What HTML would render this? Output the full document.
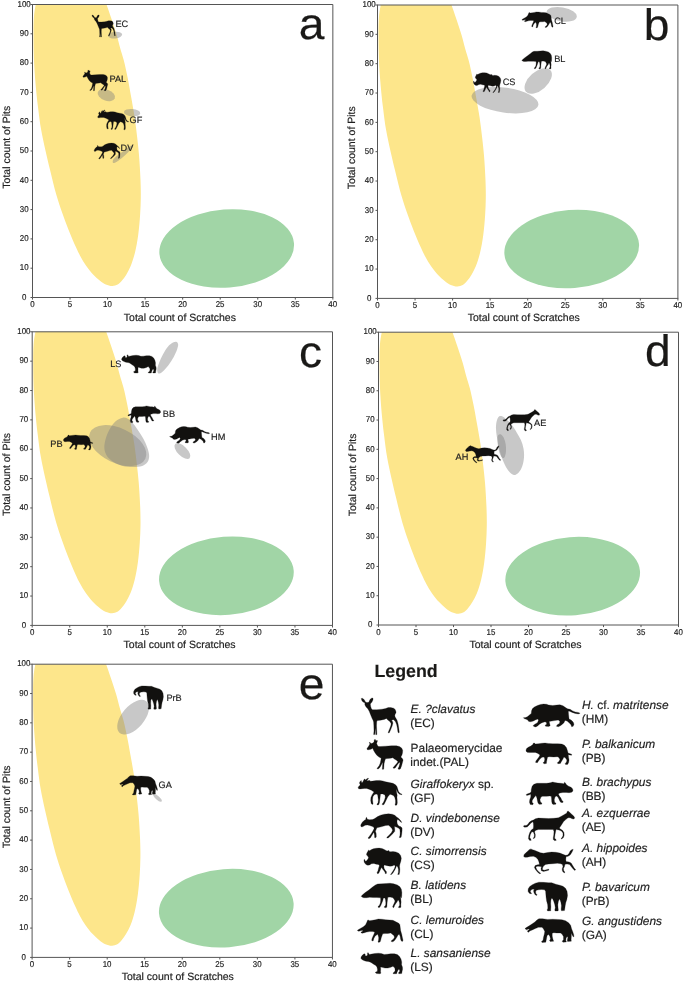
<!DOCTYPE html>
<html><head><meta charset="utf-8"><title>Figure</title>
<style>html,body{margin:0;padding:0;background:#fff;}svg{display:block;will-change:transform;}text{font-family:"Liberation Sans", sans-serif;text-rendering:geometricPrecision;stroke:#1f1f1f;stroke-width:0.18px;}</style>
</head><body>
<svg width="685" height="982" viewBox="0 0 685 982">
<rect width="685" height="982" fill="#ffffff"/>
<defs>
<path id="an-EC" d="M361.2 698.47 L362.3 698.26 L364.12 699.57 L365.22 701.39 L365.95 702.34 L367.04 702.49 L368.5 702.34 L368.87 702.12 L369.96 699.57 L371.42 698.26 L372.88 697.96 L373.1 699.2 L372.52 701.03 L371.42 702.85 L370.33 703.95 L370.69 706.5 L371.42 708.69 L372.52 709.64 L376.9 709.64 L382.01 709.2 L385.66 708.47 L388.21 707.6 L390.77 707.6 L393.69 708.18 L395.15 709.42 L395.88 711.25 L396.02 712.85 L395.15 714.17 L394.78 715.63 L395.15 717.09 L396.97 720.01 L398.07 723.66 L398.8 728.04 L399.31 732.42 L398.58 733 L397.92 732.05 L397.34 728.04 L396.61 724.39 L395.51 721.83 L393.69 719.64 L391.5 720.01 L392.23 721.1 L392.96 722.93 L392.23 725.85 L390.77 729.5 L389.31 732.78 L388.21 733 L388.43 731.69 L389.67 728.77 L390.77 725.85 L391.13 723.66 L390.04 721.83 L387.85 720.01 L386.39 718.55 L384.2 719.42 L380.55 720.15 L377.63 720.59 L376.9 721.1 L376.68 722.2 L376.53 725.85 L376.75 730.96 L376.9 734.61 L375.8 734.75 L375.58 730.96 L375.29 728.04 L375.07 730.96 L374.85 734.61 L373.61 734.61 L373.98 730.96 L373.83 725.85 L373.61 722.2 L373.25 720.74 L372.15 718.55 L370.69 714.9 L369.23 711.25 L367.77 708.69 L366.31 707.23 L365.58 706.14 L364.85 704.68 L364.85 703.22 L364.34 702.49 L363.03 702.12 L361.93 700.66Z"/>
<path id="an-PAL" d="M366.93 748.69 L367.3 747.96 L368.39 746.5 L369.34 745.04 L369.85 743.95 L369.34 742.49 L369.85 742.12 L370.58 743.22 L371.68 743.58 L373.14 742.85 L374.01 741.76 L374.23 739.93 L374.96 739.2 L375.69 739.93 L375.91 741.03 L376.93 740.3 L377.52 740.66 L377.15 742.12 L376.64 743.58 L377.52 745.41 L378.61 746.5 L380.44 746.5 L385.55 746.14 L391.39 745.77 L396.5 745.77 L399.42 746.5 L401.61 747.96 L402.7 750.15 L402.55 752.71 L401.97 754.9 L400.88 757.09 L402.7 758.91 L403.07 760.37 L402.34 762.93 L401.61 765.85 L400.51 768.77 L399.05 769.5 L397.96 768.77 L399.05 766.58 L399.78 763.66 L400 762.2 L398.69 762.93 L397.23 765.12 L395.4 767.67 L393.94 768.4 L392.99 767.67 L394.67 765.85 L396.5 763.66 L397.96 761.83 L396.5 760.37 L394.31 758.91 L392.85 757.82 L390.66 758.18 L387.74 758.55 L385.55 758.69 L384.82 760.74 L384.09 763.66 L383.94 766.58 L383.72 769.13 L382.26 769.35 L382.48 766.58 L382.63 763.66 L382.48 762.2 L381.53 764.39 L380.07 767.31 L378.25 768.91 L376.93 768.77 L377.52 767.67 L379.12 765.85 L380.29 762.93 L380.8 760.37 L381.17 758.18 L378.98 757.09 L376.79 755.26 L374.96 752.71 L373.5 750.15 L372.77 748.33 L370.95 749.2 L368.76 749.79 L367.3 749.64Z"/>
<path id="an-GF" d="M358.07 787.69 L358.65 786.6 L359.74 785.5 L360.11 784.41 L359.38 782.95 L360.11 781.49 L361.2 780.39 L361.42 781.49 L361.93 782.95 L363.03 781.49 L364.12 779.3 L364.85 778.93 L365.22 780.03 L366.68 778.93 L368.14 777.99 L368.5 778.57 L367.41 780.03 L366.68 781.12 L368.5 780.61 L369.96 780.39 L370.33 781.34 L372.52 781.12 L376.17 780.61 L379.82 780.39 L382.74 780.91 L385.66 781.85 L389.31 782.58 L392.96 783.31 L395.51 784.77 L396.97 786.6 L397.7 788.79 L398.43 791.34 L399.89 793.17 L402.08 794.26 L401.72 794.77 L399.53 794.26 L397.7 792.44 L396.75 790.25 L396.24 788.79 L396.61 792.44 L397.19 795.36 L396.97 797.18 L397.19 799.74 L397.34 802.66 L396.97 804.85 L395.88 805.43 L395 804.85 L395.51 803.02 L395.51 800.47 L394.78 797.55 L393.69 795.72 L391.5 794.63 L390.04 794.26 L387.85 796.82 L386.39 799.74 L384.93 802.66 L383.83 804.7 L382.37 804.85 L382.15 804.12 L383.47 802.29 L384.56 799.74 L385.29 797.18 L384.93 794.99 L382.74 793.9 L380.55 793.9 L380.18 796.82 L379.82 799.74 L379.45 802.66 L378.72 804.7 L377.26 804.99 L376.9 804.12 L377.99 803.02 L378.36 800.1 L377.99 797.18 L377.63 794.63 L376.17 793.9 L374.34 794.63 L372.88 796.82 L372.52 799.74 L372.88 802.66 L373.1 804.12 L372.15 804.48 L371.2 803.39 L370.69 800.47 L370.91 797.55 L372.15 794.63 L373.98 792.07 L371.42 790.25 L368.87 789.15 L366.68 788.42 L364.49 788.42 L362.3 788.64 L360.11 788.93 L358.65 788.79Z"/>
<path id="an-DV" d="M360.69 825.88 L360.99 824.42 L362.3 822.23 L364.12 820.41 L365.8 819.53 L365.95 817.85 L366.53 817.34 L367.04 818.58 L367.41 819.31 L369.6 819.68 L372.52 819.53 L374.71 818.58 L377.63 816.61 L380.55 815.15 L384.2 814.2 L388.58 813.84 L392.23 814.2 L394.78 815.3 L396.61 816.91 L398.43 818.22 L400.26 820.04 L401.72 822.23 L401.13 822.45 L399.53 820.77 L397.92 819.53 L397.19 819.68 L396.97 821.87 L397.34 824.06 L398.8 825.88 L400.99 826.83 L402.08 828.07 L402.08 830.63 L401.72 834.28 L401.13 837.2 L399.89 837.78 L399.16 837.2 L399.89 836.1 L400.11 832.82 L399.89 829.53 L398.43 828.07 L396.24 827.12 L394.42 826.61 L394.78 829.17 L394.78 831.36 L392.96 833.55 L390.4 836.1 L388.21 837.93 L386.75 838.07 L387.12 837.05 L389.31 835.01 L391.5 832.45 L392.59 830.26 L391.86 828.44 L390.04 826.61 L388.58 825.15 L385.66 825.52 L382.01 826.61 L379.09 827.34 L376.9 827.71 L376.17 829.53 L375.44 831.36 L376.17 833.55 L376.31 836.83 L375.8 837.78 L374.56 837.56 L374.56 835.74 L374.12 833.18 L373.61 832.45 L372.15 835.01 L370.33 837.93 L368.87 838.66 L367.99 838.07 L369.23 836.47 L371.06 833.91 L372.88 830.99 L374.12 828.44 L373.61 827.12 L371.79 826.25 L369.6 825.52 L367.41 824.93 L365.22 825.15 L363.03 826.61 L361.57 826.98Z"/>
<path id="an-CS" d="M364.12 859.42 L363.91 860.88 L364.49 862.71 L365.95 864.53 L367.77 865.26 L369.6 864.9 L371.42 863.8 L373.98 863.44 L376.17 864.17 L378.36 864.53 L379.45 865.63 L378.72 867.82 L377.99 870.74 L376.9 872.93 L377.63 873.66 L378.72 873.29 L379.82 871.1 L380.91 868.55 L381.64 867.45 L382.74 869.28 L384.2 871.1 L385.07 872.56 L385.29 873.66 L386.39 873.51 L386.53 871.83 L385.29 870.37 L384.2 868.55 L383.83 866.36 L384.2 864.9 L387.12 865.63 L390.04 866.21 L392.23 865.99 L394.42 864.9 L395.15 866.36 L394.42 868.55 L392.96 871.1 L391.13 873.66 L390.4 874.53 L391.5 874.53 L392.96 872.93 L394.78 870.01 L395.88 867.82 L396.61 865.63 L397.7 867.09 L398.43 869.28 L398.43 872.2 L397.7 874.39 L399.16 874.53 L399.67 872.2 L399.89 869.28 L399.53 866.36 L399.89 864.17 L400.84 861.25 L401.35 858.33 L400.62 855.41 L398.8 853.22 L395.88 851.91 L392.96 851.61 L390.77 851.76 L389.31 851.39 L388.58 850.15 L387.85 850.88 L386.39 850.66 L384.2 849.42 L382.01 848.47 L379.09 848.11 L376.17 848.26 L373.25 848.84 L371.06 849.72 L369.6 850.66 L368.5 849.93 L368.14 850.88 L367.41 852.12 L366.68 853.58 L366.53 855.04 L367.41 855.77 L368.5 857.23 L368.14 858.69 L367.04 860.15 L365.95 861.25 L365.22 860.88 L364.64 859.42Z"/>
<path id="an-BL" d="M361.2 896.25 L362.3 894.93 L365.22 892.6 L368.87 890.04 L372.52 887.12 L375.44 884.93 L377.63 883.99 L382.01 883.84 L386.39 883.47 L390.04 883.26 L393.69 883.84 L397.34 884.93 L399.89 886.76 L401.35 889.31 L401.86 892.6 L401.72 895.88 L401.35 898.07 L400.62 896.25 L400.84 899.17 L401.13 902.09 L400.84 905.01 L400.99 907.2 L399.89 907.78 L398.43 907.56 L398.8 906.47 L399.67 905.37 L399.53 902.82 L398.8 900.63 L398.07 899.9 L396.97 902.09 L395.51 903.91 L394.42 905.74 L394.05 907.2 L393.32 907.78 L392.59 906.83 L393.32 905.01 L394.42 902.82 L395 900.99 L394.05 899.17 L392.96 897.71 L390.04 897.12 L387.85 897.34 L387.48 899.9 L387.12 902.82 L386.97 905.74 L386.75 907.34 L385.29 907.78 L384.2 907.2 L384.78 906.1 L385.66 905.37 L385.8 902.82 L385.51 899.9 L384.93 898.07 L383.47 898.07 L382.74 900.63 L381.64 903.55 L380.55 906.1 L379.45 907.56 L378.36 907.56 L377.99 906.61 L379.45 905.37 L380.4 902.82 L380.69 899.9 L380.55 897.85 L376.9 897.56 L373.25 897.56 L369.6 897.34 L366.68 897.71 L363.76 897.71 L361.93 897.12Z"/>
<path id="an-CL" d="M357.34 930.37 L358.65 929.42 L361.2 927.96 L363.76 926.5 L365.58 924.68 L366.68 922.49 L367.41 920.66 L367.77 919.93 L368.87 920.15 L369.6 920.66 L372.52 920.3 L375.44 919.72 L378.36 918.99 L382.01 919.2 L385.66 919.72 L389.31 919.93 L392.96 920.3 L395.88 921.76 L398.8 923.22 L399.89 924.68 L400.26 927.6 L400.62 930.52 L401.72 934.17 L402.45 937.82 L403.03 940.37 L402.45 941.47 L401.35 941.1 L400.62 939.28 L400.11 936.36 L399.16 934.17 L398.07 934.9 L396.97 937.09 L395.51 939.28 L394.05 941.1 L392.59 941.83 L391.13 941.47 L391.5 940.59 L393.32 939.28 L394.42 937.45 L394.05 935.63 L392.23 934.17 L390.77 933.07 L387.85 933.44 L384.93 933.58 L382.74 933.8 L382.01 935.63 L381.28 937.82 L380.69 940.37 L380.18 941.83 L378.72 942.56 L377.99 941.83 L378.5 940.37 L378.72 937.82 L378.21 935.63 L377.63 934.17 L376.53 934.9 L375.07 936.36 L373.83 938.55 L373.25 940.74 L372.37 941.1 L371.64 940.15 L372.15 938.18 L373.1 935.99 L374.12 933.8 L374.71 931.98 L372.52 931.61 L369.6 931.61 L366.68 932.12 L364.49 932.71 L362.3 933.29 L360.99 932.85 L361.2 932.12 L362.66 931.25 L363.03 930.52 L361.2 930.52 L359.01 931.25 L357.92 931.1Z"/>
<path id="an-LS" d="M360.84 958.25 L361.2 956.79 L362.3 955.33 L363.39 954.23 L364.49 953.72 L365.22 954.23 L365.07 955.33 L365.95 956.06 L367.04 955.69 L367.55 954.6 L367.41 953.14 L367.99 952.55 L368.72 953.5 L369.23 954.6 L371.79 954.01 L374.71 953.5 L378.36 953.14 L381.28 953.5 L384.2 954.45 L387.12 954.23 L390.77 953.72 L394.42 953.72 L397.34 954.6 L399.53 956.42 L400.99 958.98 L401.72 961.9 L401.57 964.82 L402.45 967.01 L402.59 969.2 L402.08 971.39 L401.72 973.58 L398.8 973.72 L398.43 972.85 L399.53 971.75 L399.67 969.93 L398.8 969.2 L397.7 970.66 L396.97 972.48 L396.61 973.72 L393.32 973.72 L392.96 972.99 L394.42 972.12 L395.15 970.29 L394.78 968.1 L392.96 966.28 L390.77 967.37 L387.85 968.1 L384.93 968.1 L382.01 967.37 L380.55 967.01 L380.69 969.2 L380.55 971.39 L380.91 973.21 L379.82 973.72 L376.53 973.58 L375.44 972.85 L375.58 971.97 L377.26 971.39 L377.48 969.2 L376.9 967.01 L375.8 965.55 L373.98 964.45 L371.79 962.99 L369.96 961.9 L368.14 961.53 L365.95 961.17 L363.76 960.44 L361.93 959.56Z"/>
<path id="an-HM" d="M523.31 717.73 L525.66 717.52 L527.71 716.5 L529.75 714.66 L531.28 713.44 L531.49 710.88 L532.31 708.84 L534.35 707.1 L537.42 705.47 L540.48 704.44 L543.55 704.04 L546.61 704.24 L548.66 705.06 L552.74 705.47 L556.83 705.06 L559.9 704.75 L562.96 705.77 L565.52 707.51 L567.56 708.84 L570.12 709.35 L572.67 710.88 L575.22 711.9 L578.29 712.42 L580.13 713.23 L578.29 713.95 L575.22 713.44 L572.16 712.42 L569.6 711.19 L568.28 711.19 L568.58 714.46 L568.89 717.52 L569.09 719.06 L571.14 720.08 L573.18 722.12 L574 724.17 L573.18 726.21 L571.65 726.72 L570.93 724.68 L569.09 722.63 L567.05 721.1 L565.01 720.39 L563.98 722.63 L562.45 724.17 L560.41 725.7 L558.36 726.72 L556.32 726.21 L557.34 724.68 L559.39 723.45 L559.9 721.61 L558.36 720.08 L554.79 720.59 L551.72 721.1 L549.17 721.61 L549.68 723.66 L550.19 725.7 L548.66 726.52 L545.59 726.21 L545.08 725.19 L546.61 724.17 L546.61 722.63 L545.08 721.82 L542.01 722.63 L539.46 724.17 L537.93 725.7 L535.88 726.93 L533.84 726.52 L533.12 725.5 L534.86 724.17 L537.42 722.63 L538.44 720.59 L537.93 719.06 L535.88 719.77 L533.33 721.1 L530.77 721.82 L528.73 721.41 L527.71 720.08 L526.17 719.36 L524.13 718.55Z"/>
<path id="an-PB" d="M525.97 750.88 L526.38 748.84 L528.22 747.31 L530.77 746.08 L532.82 744.44 L533.53 743.01 L534.55 743.01 L535.17 744.04 L538.44 743.73 L542.01 743.22 L545.08 743.01 L548.15 743.42 L552.74 743.73 L557.85 743.73 L561.94 744.04 L564.49 745.26 L566.54 747.82 L567.56 750.88 L568.07 752.93 L569.6 753.44 L571.65 754.25 L571.65 755.28 L569.6 754.97 L568.28 754.66 L568.58 757.52 L569.09 760.08 L568.58 762.63 L567.56 764.47 L565.52 764.47 L565.21 763.45 L566.54 762.12 L566.85 760.08 L565.52 758.04 L563.98 757.01 L562.96 759.06 L561.43 761.61 L560.41 763.45 L557.85 763.66 L557.34 762.63 L558.87 761.61 L559.9 759.57 L558.87 757.52 L557.34 756.71 L553.77 757.01 L549.68 756.71 L547.63 757.01 L547.12 759.06 L546.61 761.61 L546.41 763.45 L544.06 763.86 L543.04 762.84 L544.36 761.61 L544.77 759.06 L544.06 757.01 L542.01 757.32 L539.97 759.06 L538.44 761.1 L537.42 762.63 L535.58 762.43 L535.88 761.1 L537.42 759.06 L538.95 757.01 L539.97 754.97 L537.93 753.44 L535.37 752.42 L532.31 752.42 L529.24 752.62 L526.99 752.21Z"/>
<path id="an-BB" d="M572.98 790.95 L572.67 788.9 L571.14 787.37 L568.58 786.15 L566.54 784.82 L565.21 782.77 L564.49 782.26 L563.98 783.8 L560.92 783.28 L557.85 783.08 L554.79 782.47 L552.74 782.06 L550.19 782.77 L546.61 783.28 L541.5 783.28 L536.9 783.28 L533.84 784.31 L532.1 786.35 L531.28 789.42 L531.08 791.97 L529.75 792.99 L527.71 793.71 L526.17 794.52 L526.69 795.55 L528.73 795.04 L530.77 794.32 L530.77 797.08 L529.75 799.63 L529.44 802.19 L530.26 804.54 L532.82 804.74 L533.33 803.52 L532.1 802.19 L532.31 800.15 L534.15 797.59 L535.88 795.55 L536.9 798.1 L537.42 800.66 L537.93 802.7 L538.95 804.23 L541.5 804.23 L542.01 803.21 L540.48 801.88 L539.97 799.63 L540.99 797.08 L542.52 796.36 L546.61 796.36 L549.68 796.06 L551.21 796.36 L551.52 798.61 L551.72 801.68 L552.23 803.72 L553.25 804.54 L555.81 804.23 L556.01 803.21 L554.58 802.19 L554.28 799.63 L554.99 797.08 L556.32 796.06 L557.85 797.08 L558.87 799.12 L559.9 801.17 L560.92 802.5 L562.96 802.5 L563.17 801.47 L561.94 800.45 L560.92 798.1 L559.39 796.06 L558.36 794.01 L559.9 792.99 L562.96 792.48 L566.03 792.48 L569.09 792.69 L571.65 792.28Z"/>
<path id="an-AE" d="M574.71 817.77 L573.69 816.04 L571.65 814.2 L569.6 812.36 L568.07 810.93 L567.05 811.64 L566.85 812.97 L563.98 814.71 L560.92 816.44 L558.36 817.77 L553.77 818.28 L548.66 818.49 L543.55 818.28 L538.44 818.08 L535.37 818.8 L533.33 820.12 L531.28 820.84 L529.24 822.37 L527.71 824.42 L526.17 825.44 L524.13 825.44 L523.31 826.25 L524.64 827.28 L527.2 826.97 L529.04 825.23 L530.77 823.19 L532.82 821.86 L533.33 822.88 L533.53 825.95 L533.33 828.5 L531.28 830.04 L529.75 832.59 L528.73 835.66 L528.42 838.72 L529.75 840.56 L531.28 840.25 L530.77 838.93 L529.75 837.5 L530.26 834.63 L531.8 831.77 L533.33 832.08 L534.35 834.63 L534.15 836.88 L533.12 838.21 L533.84 838.72 L535.17 837.19 L535.37 834.63 L534.55 831.77 L535.88 830.34 L538.44 829.52 L543.55 829.52 L548.66 829.52 L553.25 829.52 L553.97 831.57 L553.77 834.63 L553.25 837.7 L553.25 839.54 L554.79 840.77 L556.32 840.25 L555.81 839.23 L554.58 838.21 L554.99 834.63 L555.6 831.77 L556.01 829.52 L558.87 830.04 L561.43 831.06 L562.96 833.1 L562.96 835.66 L561.94 837.7 L560.92 838.52 L561.74 838.93 L563.47 837.5 L564.19 835.15 L563.98 832.39 L562.45 830.34 L560.41 829.01 L559.39 827.99 L561.43 824.93 L563.47 821.86 L566.03 819.31 L568.07 817.77 L570.12 817.77 L572.16 818.8 L574 819.1Z"/>
<path id="an-AH" d="M523.62 856.15 L524.34 854.31 L526.17 852.47 L528.22 850.73 L529.24 849.4 L530.06 849.71 L530.77 848.69 L531.8 849.4 L534.35 850.22 L537.42 851.44 L540.48 852.77 L543.55 853.28 L547.63 852.47 L551.72 852.06 L555.81 852.26 L559.9 853.08 L562.96 854.31 L565.52 855.33 L567.56 855.12 L569.09 853.28 L570.12 851.04 L571.65 849.71 L573.18 849.2 L572.67 850.73 L571.65 852.77 L570.12 855.12 L568.07 856.35 L566.03 856.86 L565.82 859.42 L566.03 861.46 L569.09 861.97 L571.14 862.99 L572.67 865.55 L574.2 868.1 L575.74 869.63 L574.71 870.45 L573.18 869.12 L571.14 866.57 L569.6 864.52 L567.05 864.01 L565.01 864.32 L564.49 866.57 L563.47 868.61 L563.78 870.66 L565.01 872.19 L564.19 872.9 L562.45 871.17 L562.14 869.12 L562.96 866.57 L562.45 864.52 L560.92 863.71 L557.34 863.3 L552.74 863.71 L548.66 864.01 L545.59 864.52 L543.55 866.06 L542.52 868.1 L542.52 869.63 L544.57 870.15 L547.12 869.43 L548.86 869.12 L548.66 870.15 L546.61 870.86 L543.55 871.47 L541.3 870.66 L540.99 868.61 L541.5 866.77 L538.95 866.36 L536.9 866.36 L535.88 867.39 L536.9 869.63 L538.95 871.88 L540.69 873.21 L539.97 873.93 L537.93 872.5 L535.58 869.84 L534.35 867.39 L535.17 865.55 L537.42 864.73 L539.46 864.52 L538.95 861.97 L537.93 859.42 L535.88 857.37 L533.33 856.35 L530.26 856.55 L527.2 857.17 L524.64 857.17Z"/>
<path id="an-PrB" d="M531.28 893.9 L529.24 893.19 L528.01 891.35 L528.22 888.8 L529.75 886.44 L532.31 884.71 L535.37 883.17 L538.95 882.15 L543.55 882.36 L548.66 882.66 L551.72 882.66 L555.81 884.2 L559.9 885.22 L562.96 886.24 L565.52 888.28 L567.05 891.35 L567.56 895.44 L566.85 899.52 L565.82 902.59 L565.21 905.66 L564.8 908.72 L564.49 910.56 L561.43 910.77 L561.12 909.23 L561.43 905.66 L560.92 902.59 L560.1 900.04 L559.39 899.01 L558.36 901.57 L557.85 904.63 L558.06 907.7 L558.36 910.25 L557.85 910.97 L554.99 910.97 L554.79 909.74 L555.3 907.7 L554.79 904.63 L553.77 901.57 L552.74 899.01 L551.72 898.3 L550.9 900.04 L550.7 903.61 L550.9 906.68 L550.7 909.74 L550.9 910.77 L547.63 910.97 L547.12 909.95 L547.84 908.21 L547.63 904.63 L546.61 901.06 L546.1 897.48 L545.79 893.9 L545.59 891.35 L544.57 889.82 L541.5 889.51 L538.44 889.82 L536.39 890.33 L535.58 891.86 L535.88 893.39 L537.21 894.93 L536.39 895.44 L534.86 894.42 L533.84 892.37 L533.53 890.84 L534.35 889.31 L532.31 889.31 L530.77 890.33 L530.26 891.86 L531.49 893.19Z"/>
<path id="an-GA" d="M524.95 928.6 L526.69 927.37 L529.24 925.84 L532.31 923.8 L534.86 922.06 L536.9 920.01 L538.95 918.69 L542.52 918.69 L547.63 919.4 L552.74 919.2 L557.85 919.4 L561.94 919.71 L565.52 920.73 L568.58 922.77 L570.63 925.33 L571.65 928.9 L572.67 931.46 L573.69 934.52 L574 936.77 L572.98 936.57 L571.95 934.52 L571.34 932.99 L571.34 936.57 L571.14 939.63 L571.34 941.17 L567.56 941.47 L567.25 940.15 L567.87 937.59 L567.05 936.57 L566.03 938.61 L565.82 940.66 L566.54 941.88 L562.96 942.19 L562.14 941.17 L563.47 939.63 L563.47 936.57 L561.94 934.01 L560.41 932.99 L556.83 932.99 L553.77 932.69 L552.23 933.3 L552.23 936.06 L552.74 938.61 L553.25 940.15 L553.77 941.17 L550.19 941.47 L549.47 940.45 L550.5 939.12 L549.88 936.57 L548.66 934.52 L547.12 935.55 L546.61 938.1 L546.1 940.66 L545.79 942.19 L542.01 942.5 L541.5 941.47 L543.04 940.15 L543.55 937.08 L544.36 934.01 L544.77 931.46 L543.55 928.9 L542.01 927.37 L538.44 927.37 L535.37 928.6 L532.31 929.93 L529.75 930.95 L528.73 932.28 L527.71 931.97 L527.5 930.85 L529.44 929.42 L528.63 929.01 L526.38 929.82Z"/>
<clipPath id="cp-a"><rect x="32.5" y="4.5" width="300.35" height="293"/></clipPath>
<clipPath id="cp-b"><rect x="377.5" y="5" width="300.4" height="293.4"/></clipPath>
<clipPath id="cp-c"><rect x="32.2" y="331.8" width="300.3" height="293.6"/></clipPath>
<clipPath id="cp-d"><rect x="378.5" y="332.2" width="300" height="292.8"/></clipPath>
<clipPath id="cp-e"><rect x="32.1" y="664.2" width="300.35" height="293.2"/></clipPath>
</defs>
<g id="panel-a">
<g clip-path="url(#cp-a)">
<path d="M35.7 4.8C34.75 9.47 34.28 12.75 33.9 17.5C33.42 23.51 33.48 30.7 33.5 38C33.53 46.38 33.73 56.01 34.2 65C34.67 73.98 35.53 83.9 36.3 91.9C36.92 98.36 37.53 103.33 38.3 109.4C39.14 115.99 39.76 122.05 41.2 130C43.21 141.13 47.21 158.06 50 169.8C52.23 179.17 54.2 187.4 56.4 195C58.25 201.4 60.07 206.69 62.1 212.5C64.14 218.35 66.28 224.19 68.6 230C70.95 235.89 73.92 242.83 76.1 247.6C77.62 250.94 78.63 253.14 80.2 256C81.93 259.16 83.94 262.62 86.1 265.7C88.24 268.75 90.7 271.83 93.1 274.4C95.25 276.7 97.47 278.76 99.7 280.5C101.71 282.07 103.64 283.58 105.8 284.5C107.88 285.38 110.33 286.05 112.4 286C114.27 285.95 116.12 285.39 117.7 284.5C119.33 283.58 120.63 282.05 122 280.5C123.55 278.75 125.02 276.67 126.4 274.4C127.97 271.81 129.47 268.96 130.8 265.7C132.39 261.81 133.82 257.25 135 252.5C136.34 247.12 137.36 241.05 138.2 235C139.09 228.57 139.66 221.45 140.1 215C140.51 208.98 140.73 203.33 140.8 197.5C140.87 191.67 140.74 186.35 140.5 180C140.21 172.4 139.62 162.59 139 155C138.48 148.64 137.9 143.56 137.2 137.5C136.45 130.93 135.64 123.94 134.6 117C133.52 109.78 132.03 101.91 130.8 95C129.7 88.83 128.78 83.32 127.6 77.5C126.41 71.66 125.06 65.24 123.7 60C122.57 55.66 121.34 52.25 120.2 48.2C119 43.93 118.08 39.69 116.7 35C115.09 29.56 112.8 22.86 111 17.5C109.46 12.92 108.19 9.18 106.6 4.8C104.88 0.04 103.24 -4.88 101 -10C98.47 -15.77 95.71 -22.86 92 -28C88.6 -32.72 84.67 -37.69 80 -40C75.59 -42.18 69.8 -43.11 65 -42C59.76 -40.79 53.97 -36.39 50 -32C45.9 -27.46 43.37 -21.02 41 -15C38.56 -8.78 36.9 -1.1 35.7 4.8Z" transform="translate(0 0)" fill="#fde68b"/>
<ellipse cx="226.7" cy="248.5" rx="67.5" ry="39.1" transform="rotate(-4.5 226.7 248.5)" fill="#a1d5a6"/>
<ellipse cx="115.1" cy="35.1" rx="7.1" ry="3.3" transform="rotate(-6 115.1 35.1)" fill="rgba(128,128,128,0.43)"/>
<ellipse cx="106.3" cy="95.1" rx="9" ry="5.5" transform="rotate(20 106.3 95.1)" fill="rgba(128,128,128,0.43)"/>
<ellipse cx="132.1" cy="112.7" rx="8.2" ry="3.7" transform="rotate(5 132.1 112.7)" fill="rgba(128,128,128,0.43)"/>
<path d="M112.7 162.04C112.63 161.49 112.79 160.57 113.14 159.85C113.56 158.96 114.46 158.05 115.33 157.23C116.31 156.29 117.63 155.51 118.83 154.6C120.11 153.62 121.46 152.55 122.77 151.53C124.09 150.51 125.42 149.4 126.71 148.47C127.9 147.61 129.13 146.66 130.22 146.1C131.06 145.67 132.11 145.06 132.58 145.23C132.89 145.33 133.11 145.75 133.11 146.1C133.11 146.62 132.47 147.34 131.97 148.03C131.3 148.96 130.3 150.06 129.34 151.09C128.28 152.24 127.06 153.45 125.84 154.6C124.58 155.78 123.24 157.02 121.9 158.1C120.61 159.14 119.21 160.18 117.96 160.99C116.89 161.68 115.8 162.45 114.89 162.74C114.25 162.95 113.5 163.12 113.14 162.92C112.87 162.77 112.75 162.41 112.7 162.04Z" fill="rgba(128,128,128,0.43)"/>
</g>
<path d="M32.5 4.5 H332.85 V297.5" fill="none" stroke="#555555" stroke-width="1"/>
<path d="M32.5 4.1 V297.5 H333.25" fill="none" stroke="#555555" stroke-width="1"/>
<path d="M32.5 297.5 h-2M32.5 268.2 h-2M32.5 238.9 h-2M32.5 209.6 h-2M32.5 180.3 h-2M32.5 151 h-2M32.5 121.7 h-2M32.5 92.4 h-2M32.5 63.1 h-2M32.5 33.8 h-2M32.5 4.5 h-2M32.5 297.5 v2.1M70.04 297.5 v2.1M107.59 297.5 v2.1M145.13 297.5 v2.1M182.68 297.5 v2.1M220.22 297.5 v2.1M257.76 297.5 v2.1M295.31 297.5 v2.1M332.85 297.5 v2.1" fill="none" stroke="#555555" stroke-width="1"/>
<g font-size="8.5" fill="#1f1f1f" text-anchor="middle">
<text x="24.15" y="299.7" textLength="4.4" lengthAdjust="spacingAndGlyphs">0</text>
<text x="24.15" y="270.4" textLength="8.8" lengthAdjust="spacingAndGlyphs">10</text>
<text x="24.15" y="241.1" textLength="8.8" lengthAdjust="spacingAndGlyphs">20</text>
<text x="24.15" y="211.8" textLength="8.8" lengthAdjust="spacingAndGlyphs">30</text>
<text x="24.15" y="182.5" textLength="8.8" lengthAdjust="spacingAndGlyphs">40</text>
<text x="24.15" y="153.2" textLength="8.8" lengthAdjust="spacingAndGlyphs">50</text>
<text x="24.15" y="123.9" textLength="8.8" lengthAdjust="spacingAndGlyphs">60</text>
<text x="24.15" y="94.6" textLength="8.8" lengthAdjust="spacingAndGlyphs">70</text>
<text x="24.15" y="65.3" textLength="8.8" lengthAdjust="spacingAndGlyphs">80</text>
<text x="24.15" y="36" textLength="8.8" lengthAdjust="spacingAndGlyphs">90</text>
<text x="24.15" y="6.7" textLength="13.2" lengthAdjust="spacingAndGlyphs">100</text>
<text x="32.4" y="307.1" textLength="4.4" lengthAdjust="spacingAndGlyphs">0</text>
<text x="69.94" y="307.1" textLength="4.4" lengthAdjust="spacingAndGlyphs">5</text>
<text x="107.49" y="307.1" textLength="8.8" lengthAdjust="spacingAndGlyphs">10</text>
<text x="145.03" y="307.1" textLength="8.8" lengthAdjust="spacingAndGlyphs">15</text>
<text x="182.58" y="307.1" textLength="8.8" lengthAdjust="spacingAndGlyphs">20</text>
<text x="220.12" y="307.1" textLength="8.8" lengthAdjust="spacingAndGlyphs">25</text>
<text x="257.66" y="307.1" textLength="8.8" lengthAdjust="spacingAndGlyphs">30</text>
<text x="295.21" y="307.1" textLength="8.8" lengthAdjust="spacingAndGlyphs">35</text>
<text x="332.75" y="307.1" textLength="8.8" lengthAdjust="spacingAndGlyphs">40</text>
</g>
<text x="179.9" y="320.7" font-size="10.5" fill="#1f1f1f" text-anchor="middle">Total count of Scratches</text>
<text x="10.1" y="147.2" font-size="10.5" fill="#1f1f1f" text-anchor="middle" transform="rotate(-90 10.1 147.2)">Total count of Pits</text>
<text transform="translate(298.86 39) scale(1.05 1)" font-size="44" fill="#1a1917" stroke="none">a</text>
<use href="#an-EC" fill="#12110f" stroke="#12110f" stroke-width="0.35" stroke-linejoin="round" transform="translate(91.9 14.9) scale(0.6141 0.6035) translate(-361.2 -697.96)"/>
<use href="#an-PAL" fill="#12110f" stroke="#12110f" stroke-width="0.35" stroke-linejoin="round" transform="translate(82.9 69.9) scale(0.6864 0.6933) translate(-366.93 -739.2)"/>
<use href="#an-GF" fill="#12110f" stroke="#12110f" stroke-width="0.35" stroke-linejoin="round" transform="translate(97.6 109.9) scale(0.7089 0.7251) translate(-358.07 -777.99)"/>
<use href="#an-DV" fill="#12110f" stroke="#12110f" stroke-width="0.35" stroke-linejoin="round" transform="translate(94.1 143.1) scale(0.6258 0.6407) translate(-360.69 -813.84)"/>
<g font-size="9.2" fill="#1f1f1f">
<text x="115.4" y="26.8">EC</text>
<text x="109.5" y="82.2">PAL</text>
<text x="129.5" y="122.7">GF</text>
<text x="120.5" y="150.8">DV</text>
</g>
</g>
<g id="panel-b">
<g clip-path="url(#cp-b)">
<path d="M35.7 4.8C34.75 9.47 34.28 12.75 33.9 17.5C33.42 23.51 33.48 30.7 33.5 38C33.53 46.38 33.73 56.01 34.2 65C34.67 73.98 35.53 83.9 36.3 91.9C36.92 98.36 37.53 103.33 38.3 109.4C39.14 115.99 39.76 122.05 41.2 130C43.21 141.13 47.21 158.06 50 169.8C52.23 179.17 54.2 187.4 56.4 195C58.25 201.4 60.07 206.69 62.1 212.5C64.14 218.35 66.28 224.19 68.6 230C70.95 235.89 73.92 242.83 76.1 247.6C77.62 250.94 78.63 253.14 80.2 256C81.93 259.16 83.94 262.62 86.1 265.7C88.24 268.75 90.7 271.83 93.1 274.4C95.25 276.7 97.47 278.76 99.7 280.5C101.71 282.07 103.64 283.58 105.8 284.5C107.88 285.38 110.33 286.05 112.4 286C114.27 285.95 116.12 285.39 117.7 284.5C119.33 283.58 120.63 282.05 122 280.5C123.55 278.75 125.02 276.67 126.4 274.4C127.97 271.81 129.47 268.96 130.8 265.7C132.39 261.81 133.82 257.25 135 252.5C136.34 247.12 137.36 241.05 138.2 235C139.09 228.57 139.66 221.45 140.1 215C140.51 208.98 140.73 203.33 140.8 197.5C140.87 191.67 140.74 186.35 140.5 180C140.21 172.4 139.62 162.59 139 155C138.48 148.64 137.9 143.56 137.2 137.5C136.45 130.93 135.64 123.94 134.6 117C133.52 109.78 132.03 101.91 130.8 95C129.7 88.83 128.78 83.32 127.6 77.5C126.41 71.66 125.06 65.24 123.7 60C122.57 55.66 121.34 52.25 120.2 48.2C119 43.93 118.08 39.69 116.7 35C115.09 29.56 112.8 22.86 111 17.5C109.46 12.92 108.19 9.18 106.6 4.8C104.88 0.04 103.24 -4.88 101 -10C98.47 -15.77 95.71 -22.86 92 -28C88.6 -32.72 84.67 -37.69 80 -40C75.59 -42.18 69.8 -43.11 65 -42C59.76 -40.79 53.97 -36.39 50 -32C45.9 -27.46 43.37 -21.02 41 -15C38.56 -8.78 36.9 -1.1 35.7 4.8Z" transform="translate(345 0.5)" fill="#fde68b"/>
<ellipse cx="571.7" cy="249" rx="67.5" ry="39.1" transform="rotate(-4.5 571.7 249)" fill="#a1d5a6"/>
<ellipse cx="561.7" cy="14.3" rx="15.3" ry="7" transform="rotate(10 561.7 14.3)" fill="rgba(128,128,128,0.43)"/>
<ellipse cx="538.2" cy="81" rx="16.3" ry="9.3" transform="rotate(-41.4 538.2 81)" fill="rgba(128,128,128,0.43)"/>
<ellipse cx="505" cy="100.2" rx="33.7" ry="12.5" transform="rotate(8 505 100.2)" fill="rgba(128,128,128,0.43)"/>
</g>
<path d="M377.5 5 H677.9 V298.4" fill="none" stroke="#555555" stroke-width="1"/>
<path d="M377.5 4.6 V298.4 H678.3" fill="none" stroke="#555555" stroke-width="1"/>
<path d="M377.5 298.4 h-2M377.5 269.06 h-2M377.5 239.72 h-2M377.5 210.38 h-2M377.5 181.04 h-2M377.5 151.7 h-2M377.5 122.36 h-2M377.5 93.02 h-2M377.5 63.68 h-2M377.5 34.34 h-2M377.5 5 h-2M377.5 298.4 v2.1M415.05 298.4 v2.1M452.6 298.4 v2.1M490.15 298.4 v2.1M527.7 298.4 v2.1M565.25 298.4 v2.1M602.8 298.4 v2.1M640.35 298.4 v2.1M677.9 298.4 v2.1" fill="none" stroke="#555555" stroke-width="1"/>
<g font-size="8.5" fill="#1f1f1f" text-anchor="middle">
<text x="369.15" y="300.6" textLength="4.4" lengthAdjust="spacingAndGlyphs">0</text>
<text x="369.15" y="271.26" textLength="8.8" lengthAdjust="spacingAndGlyphs">10</text>
<text x="369.15" y="241.92" textLength="8.8" lengthAdjust="spacingAndGlyphs">20</text>
<text x="369.15" y="212.58" textLength="8.8" lengthAdjust="spacingAndGlyphs">30</text>
<text x="369.15" y="183.24" textLength="8.8" lengthAdjust="spacingAndGlyphs">40</text>
<text x="369.15" y="153.9" textLength="8.8" lengthAdjust="spacingAndGlyphs">50</text>
<text x="369.15" y="124.56" textLength="8.8" lengthAdjust="spacingAndGlyphs">60</text>
<text x="369.15" y="95.22" textLength="8.8" lengthAdjust="spacingAndGlyphs">70</text>
<text x="369.15" y="65.88" textLength="8.8" lengthAdjust="spacingAndGlyphs">80</text>
<text x="369.15" y="36.54" textLength="8.8" lengthAdjust="spacingAndGlyphs">90</text>
<text x="369.15" y="7.2" textLength="13.2" lengthAdjust="spacingAndGlyphs">100</text>
<text x="377.4" y="308" textLength="4.4" lengthAdjust="spacingAndGlyphs">0</text>
<text x="414.95" y="308" textLength="4.4" lengthAdjust="spacingAndGlyphs">5</text>
<text x="452.5" y="308" textLength="8.8" lengthAdjust="spacingAndGlyphs">10</text>
<text x="490.05" y="308" textLength="8.8" lengthAdjust="spacingAndGlyphs">15</text>
<text x="527.6" y="308" textLength="8.8" lengthAdjust="spacingAndGlyphs">20</text>
<text x="565.15" y="308" textLength="8.8" lengthAdjust="spacingAndGlyphs">25</text>
<text x="602.7" y="308" textLength="8.8" lengthAdjust="spacingAndGlyphs">30</text>
<text x="640.25" y="308" textLength="8.8" lengthAdjust="spacingAndGlyphs">35</text>
<text x="677.8" y="308" textLength="8.8" lengthAdjust="spacingAndGlyphs">40</text>
</g>
<text x="523.7" y="321.1" font-size="10.5" fill="#1f1f1f" text-anchor="middle">Total count of Scratches</text>
<text x="355.1" y="147.7" font-size="10.5" fill="#1f1f1f" text-anchor="middle" transform="rotate(-90 355.1 147.7)">Total count of Pits</text>
<text transform="translate(643.85 40.2) scale(1.05 1)" font-size="44" fill="#1a1917" stroke="none">b</text>
<use href="#an-CL" fill="#12110f" stroke="#12110f" stroke-width="0.35" stroke-linejoin="round" transform="translate(521.9 11.9) scale(0.6828 0.6829) translate(-357.34 -918.99)"/>
<use href="#an-BL" fill="#12110f" stroke="#12110f" stroke-width="0.35" stroke-linejoin="round" transform="translate(521.9 50.8) scale(0.7330 0.7380) translate(-361.2 -883.26)"/>
<use href="#an-CS" fill="#12110f" stroke="#12110f" stroke-width="0.35" stroke-linejoin="round" transform="translate(473.4 72.7) scale(0.7344 0.7493) translate(-363.91 -848.11)"/>
<g font-size="9.2" fill="#1f1f1f">
<text x="554.2" y="23.7">CL</text>
<text x="554.2" y="61.7">BL</text>
<text x="502.7" y="85">CS</text>
</g>
</g>
<g id="panel-c">
<g clip-path="url(#cp-c)">
<path d="M35.7 4.8C34.75 9.47 34.28 12.75 33.9 17.5C33.42 23.51 33.48 30.7 33.5 38C33.53 46.38 33.73 56.01 34.2 65C34.67 73.98 35.53 83.9 36.3 91.9C36.92 98.36 37.53 103.33 38.3 109.4C39.14 115.99 39.76 122.05 41.2 130C43.21 141.13 47.21 158.06 50 169.8C52.23 179.17 54.2 187.4 56.4 195C58.25 201.4 60.07 206.69 62.1 212.5C64.14 218.35 66.28 224.19 68.6 230C70.95 235.89 73.92 242.83 76.1 247.6C77.62 250.94 78.63 253.14 80.2 256C81.93 259.16 83.94 262.62 86.1 265.7C88.24 268.75 90.7 271.83 93.1 274.4C95.25 276.7 97.47 278.76 99.7 280.5C101.71 282.07 103.64 283.58 105.8 284.5C107.88 285.38 110.33 286.05 112.4 286C114.27 285.95 116.12 285.39 117.7 284.5C119.33 283.58 120.63 282.05 122 280.5C123.55 278.75 125.02 276.67 126.4 274.4C127.97 271.81 129.47 268.96 130.8 265.7C132.39 261.81 133.82 257.25 135 252.5C136.34 247.12 137.36 241.05 138.2 235C139.09 228.57 139.66 221.45 140.1 215C140.51 208.98 140.73 203.33 140.8 197.5C140.87 191.67 140.74 186.35 140.5 180C140.21 172.4 139.62 162.59 139 155C138.48 148.64 137.9 143.56 137.2 137.5C136.45 130.93 135.64 123.94 134.6 117C133.52 109.78 132.03 101.91 130.8 95C129.7 88.83 128.78 83.32 127.6 77.5C126.41 71.66 125.06 65.24 123.7 60C122.57 55.66 121.34 52.25 120.2 48.2C119 43.93 118.08 39.69 116.7 35C115.09 29.56 112.8 22.86 111 17.5C109.46 12.92 108.19 9.18 106.6 4.8C104.88 0.04 103.24 -4.88 101 -10C98.47 -15.77 95.71 -22.86 92 -28C88.6 -32.72 84.67 -37.69 80 -40C75.59 -42.18 69.8 -43.11 65 -42C59.76 -40.79 53.97 -36.39 50 -32C45.9 -27.46 43.37 -21.02 41 -15C38.56 -8.78 36.9 -1.1 35.7 4.8Z" transform="translate(-0.3 327.3)" fill="#fde68b"/>
<ellipse cx="226.4" cy="575.8" rx="67.5" ry="39.1" transform="rotate(-4.5 226.4 575.8)" fill="#a1d5a6"/>
<ellipse cx="117.7" cy="445.6" rx="30.6" ry="17.4" transform="rotate(25.4 117.7 445.6)" fill="rgba(128,128,128,0.43)"/>
<ellipse cx="182.4" cy="451.1" rx="10.2" ry="4.8" transform="rotate(45 182.4 451.1)" fill="rgba(128,128,128,0.43)"/>
<path d="M122.81 417.66C120.58 417.96 117.77 419.48 115.66 421.24C113.27 423.23 111.21 426.42 109.52 429.42C107.78 432.53 106.28 436.26 105.44 439.63C104.66 442.73 104.08 445.99 104.42 448.83C104.72 451.4 105.56 453.84 106.97 455.98C108.51 458.32 111.06 460.47 113.61 462.12C116.3 463.85 119.6 465.18 122.81 466C126.07 466.83 129.71 467.04 133.03 467.02C136.18 467 139.68 466.99 142.22 466C144.37 465.16 146.38 463.81 147.54 462.12C148.67 460.45 149.13 458.18 149.17 455.98C149.22 453.46 148.25 450.57 147.33 447.81C146.33 444.78 144.8 441.54 143.25 438.61C141.73 435.75 139.98 433.12 138.14 430.44C136.24 427.67 133.95 424.36 132.01 422.26C130.59 420.74 129.47 419.45 127.92 418.69C126.4 417.94 124.61 417.42 122.81 417.66Z" fill="rgba(128,128,128,0.43)"/>
<path d="M158.1 373.25C157.45 372.68 157.18 370.78 157.23 369.31C157.29 367.39 158.29 365.01 159.12 362.74C160.08 360.16 161.35 357.34 162.77 354.71C164.25 351.98 165.99 348.79 167.88 346.68C169.45 344.93 171.34 343.32 172.99 342.59C174.24 342.04 175.77 341.64 176.64 342.01C177.36 342.31 177.9 343.15 178.1 344.05C178.4 345.4 177.69 347.66 177.08 349.6C176.35 351.91 175.06 354.45 173.72 356.9C172.27 359.56 170.48 362.45 168.61 364.93C166.82 367.3 164.47 370.03 162.77 371.5C161.7 372.42 160.74 373.17 159.85 373.39C159.23 373.55 158.53 373.62 158.1 373.25Z" fill="rgba(128,128,128,0.43)"/>
</g>
<path d="M32.2 331.8 H332.5 V625.4" fill="none" stroke="#555555" stroke-width="1"/>
<path d="M32.2 331.4 V625.4 H332.9" fill="none" stroke="#555555" stroke-width="1"/>
<path d="M32.2 625.4 h-2M32.2 596.04 h-2M32.2 566.68 h-2M32.2 537.32 h-2M32.2 507.96 h-2M32.2 478.6 h-2M32.2 449.24 h-2M32.2 419.88 h-2M32.2 390.52 h-2M32.2 361.16 h-2M32.2 331.8 h-2M32.2 625.4 v2.1M69.74 625.4 v2.1M107.28 625.4 v2.1M144.81 625.4 v2.1M182.35 625.4 v2.1M219.89 625.4 v2.1M257.43 625.4 v2.1M294.96 625.4 v2.1M332.5 625.4 v2.1" fill="none" stroke="#555555" stroke-width="1"/>
<g font-size="8.5" fill="#1f1f1f" text-anchor="middle">
<text x="23.85" y="627.6" textLength="4.4" lengthAdjust="spacingAndGlyphs">0</text>
<text x="23.85" y="598.24" textLength="8.8" lengthAdjust="spacingAndGlyphs">10</text>
<text x="23.85" y="568.88" textLength="8.8" lengthAdjust="spacingAndGlyphs">20</text>
<text x="23.85" y="539.52" textLength="8.8" lengthAdjust="spacingAndGlyphs">30</text>
<text x="23.85" y="510.16" textLength="8.8" lengthAdjust="spacingAndGlyphs">40</text>
<text x="23.85" y="480.8" textLength="8.8" lengthAdjust="spacingAndGlyphs">50</text>
<text x="23.85" y="451.44" textLength="8.8" lengthAdjust="spacingAndGlyphs">60</text>
<text x="23.85" y="422.08" textLength="8.8" lengthAdjust="spacingAndGlyphs">70</text>
<text x="23.85" y="392.72" textLength="8.8" lengthAdjust="spacingAndGlyphs">80</text>
<text x="23.85" y="363.36" textLength="8.8" lengthAdjust="spacingAndGlyphs">90</text>
<text x="23.85" y="334" textLength="13.2" lengthAdjust="spacingAndGlyphs">100</text>
<text x="32.1" y="635" textLength="4.4" lengthAdjust="spacingAndGlyphs">0</text>
<text x="69.64" y="635" textLength="4.4" lengthAdjust="spacingAndGlyphs">5</text>
<text x="107.18" y="635" textLength="8.8" lengthAdjust="spacingAndGlyphs">10</text>
<text x="144.71" y="635" textLength="8.8" lengthAdjust="spacingAndGlyphs">15</text>
<text x="182.25" y="635" textLength="8.8" lengthAdjust="spacingAndGlyphs">20</text>
<text x="219.79" y="635" textLength="8.8" lengthAdjust="spacingAndGlyphs">25</text>
<text x="257.32" y="635" textLength="8.8" lengthAdjust="spacingAndGlyphs">30</text>
<text x="294.86" y="635" textLength="8.8" lengthAdjust="spacingAndGlyphs">35</text>
<text x="332.4" y="635" textLength="8.8" lengthAdjust="spacingAndGlyphs">40</text>
</g>
<text x="179.6" y="648" font-size="10.5" fill="#1f1f1f" text-anchor="middle">Total count of Scratches</text>
<text x="9.8" y="474.5" font-size="10.5" fill="#1f1f1f" text-anchor="middle" transform="rotate(-90 9.8 474.5)">Total count of Pits</text>
<text transform="translate(299.1 366.6) scale(1.05 1)" font-size="44" fill="#1a1917" stroke="none">c</text>
<use href="#an-LS" fill="#12110f" stroke="#12110f" stroke-width="0.35" stroke-linejoin="round" transform="translate(121.6 354.7) scale(0.8287 0.8645) translate(-360.84 -952.55)"/>
<use href="#an-PB" fill="#12110f" stroke="#12110f" stroke-width="0.35" stroke-linejoin="round" transform="translate(63.4 435) scale(0.6415 0.6943) translate(-525.97 -743.01)"/>
<use href="#an-BB" fill="#12110f" stroke="#12110f" stroke-width="0.35" stroke-linejoin="round" transform="translate(127.9 405.9) scale(0.6987 0.7406) translate(-526.17 -782.06)"/>
<use href="#an-HM" fill="#12110f" stroke="#12110f" stroke-width="0.35" stroke-linejoin="round" transform="translate(169.6 426.5) scale(0.7058 0.7296) translate(-523.31 -704.04)"/>
<g font-size="9.2" fill="#1f1f1f">
<text x="110.2" y="366.8">LS</text>
<text x="50.3" y="447">PB</text>
<text x="162.8" y="417.4">BB</text>
<text x="211" y="439.7">HM</text>
</g>
</g>
<g id="panel-d">
<g clip-path="url(#cp-d)">
<path d="M35.7 4.8C34.75 9.47 34.28 12.75 33.9 17.5C33.42 23.51 33.48 30.7 33.5 38C33.53 46.38 33.73 56.01 34.2 65C34.67 73.98 35.53 83.9 36.3 91.9C36.92 98.36 37.53 103.33 38.3 109.4C39.14 115.99 39.76 122.05 41.2 130C43.21 141.13 47.21 158.06 50 169.8C52.23 179.17 54.2 187.4 56.4 195C58.25 201.4 60.07 206.69 62.1 212.5C64.14 218.35 66.28 224.19 68.6 230C70.95 235.89 73.92 242.83 76.1 247.6C77.62 250.94 78.63 253.14 80.2 256C81.93 259.16 83.94 262.62 86.1 265.7C88.24 268.75 90.7 271.83 93.1 274.4C95.25 276.7 97.47 278.76 99.7 280.5C101.71 282.07 103.64 283.58 105.8 284.5C107.88 285.38 110.33 286.05 112.4 286C114.27 285.95 116.12 285.39 117.7 284.5C119.33 283.58 120.63 282.05 122 280.5C123.55 278.75 125.02 276.67 126.4 274.4C127.97 271.81 129.47 268.96 130.8 265.7C132.39 261.81 133.82 257.25 135 252.5C136.34 247.12 137.36 241.05 138.2 235C139.09 228.57 139.66 221.45 140.1 215C140.51 208.98 140.73 203.33 140.8 197.5C140.87 191.67 140.74 186.35 140.5 180C140.21 172.4 139.62 162.59 139 155C138.48 148.64 137.9 143.56 137.2 137.5C136.45 130.93 135.64 123.94 134.6 117C133.52 109.78 132.03 101.91 130.8 95C129.7 88.83 128.78 83.32 127.6 77.5C126.41 71.66 125.06 65.24 123.7 60C122.57 55.66 121.34 52.25 120.2 48.2C119 43.93 118.08 39.69 116.7 35C115.09 29.56 112.8 22.86 111 17.5C109.46 12.92 108.19 9.18 106.6 4.8C104.88 0.04 103.24 -4.88 101 -10C98.47 -15.77 95.71 -22.86 92 -28C88.6 -32.72 84.67 -37.69 80 -40C75.59 -42.18 69.8 -43.11 65 -42C59.76 -40.79 53.97 -36.39 50 -32C45.9 -27.46 43.37 -21.02 41 -15C38.56 -8.78 36.9 -1.1 35.7 4.8Z" transform="translate(346 327.7)" fill="#fde68b"/>
<ellipse cx="572.7" cy="576.2" rx="67.5" ry="39.1" transform="rotate(-4.5 572.7 576.2)" fill="#a1d5a6"/>
<path d="M499.01 416.39C497.97 417.07 497.33 419.09 496.82 420.77C496.21 422.78 495.98 425.31 495.95 427.77C495.91 430.53 496.41 433.55 496.82 436.53C497.27 439.68 497.85 442.97 498.58 446.17C499.31 449.39 500.16 452.7 501.2 455.8C502.22 458.82 503.34 461.86 504.71 464.56C505.99 467.09 507.39 469.75 509.09 471.57C510.52 473.11 512.26 474.96 513.9 475.07C515.48 475.17 517.39 473.75 518.72 472.44C520.24 470.96 521.36 468.62 522.23 466.31C523.2 463.72 523.76 460.49 523.98 457.55C524.19 454.65 524.04 451.68 523.54 448.79C523.03 445.84 522.09 442.82 520.91 440.04C519.75 437.27 518.11 434.75 516.53 432.15C514.91 429.49 513.15 426.55 511.28 424.27C509.62 422.25 507.7 420.44 506.02 419.01C504.66 417.87 503.38 416.58 502.08 416.21C501.05 415.91 499.84 415.84 499.01 416.39Z" fill="rgba(128,128,128,0.43)"/>
<path d="M498.14 435.22C498.64 434.59 499.6 434.23 500.33 434.34C501.21 434.48 502.22 435.53 502.96 436.53C503.91 437.83 504.64 439.93 505.15 441.79C505.68 443.72 505.95 445.87 506.02 447.92C506.09 449.96 506.03 452.26 505.58 454.05C505.21 455.54 504.61 457.61 503.83 457.99C503.33 458.24 502.62 457.95 502.08 457.55C501.26 456.96 500.5 455.48 499.89 454.05C499.09 452.16 498.55 449.39 498.14 447.04C497.73 444.72 497.39 442.15 497.44 440.04C497.48 438.28 497.42 436.12 498.14 435.22Z" fill="rgba(128,128,128,0.43)"/>
</g>
<path d="M378.5 332.2 H678.5 V625" fill="none" stroke="#555555" stroke-width="1"/>
<path d="M378.5 331.8 V625 H678.9" fill="none" stroke="#555555" stroke-width="1"/>
<path d="M378.5 625 h-2M378.5 595.72 h-2M378.5 566.44 h-2M378.5 537.16 h-2M378.5 507.88 h-2M378.5 478.6 h-2M378.5 449.32 h-2M378.5 420.04 h-2M378.5 390.76 h-2M378.5 361.48 h-2M378.5 332.2 h-2M378.5 625 v2.1M416 625 v2.1M453.5 625 v2.1M491 625 v2.1M528.5 625 v2.1M566 625 v2.1M603.5 625 v2.1M641 625 v2.1M678.5 625 v2.1" fill="none" stroke="#555555" stroke-width="1"/>
<g font-size="8.5" fill="#1f1f1f" text-anchor="middle">
<text x="370.15" y="627.2" textLength="4.4" lengthAdjust="spacingAndGlyphs">0</text>
<text x="370.15" y="597.92" textLength="8.8" lengthAdjust="spacingAndGlyphs">10</text>
<text x="370.15" y="568.64" textLength="8.8" lengthAdjust="spacingAndGlyphs">20</text>
<text x="370.15" y="539.36" textLength="8.8" lengthAdjust="spacingAndGlyphs">30</text>
<text x="370.15" y="510.08" textLength="8.8" lengthAdjust="spacingAndGlyphs">40</text>
<text x="370.15" y="480.8" textLength="8.8" lengthAdjust="spacingAndGlyphs">50</text>
<text x="370.15" y="451.52" textLength="8.8" lengthAdjust="spacingAndGlyphs">60</text>
<text x="370.15" y="422.24" textLength="8.8" lengthAdjust="spacingAndGlyphs">70</text>
<text x="370.15" y="392.96" textLength="8.8" lengthAdjust="spacingAndGlyphs">80</text>
<text x="370.15" y="363.68" textLength="8.8" lengthAdjust="spacingAndGlyphs">90</text>
<text x="370.15" y="334.4" textLength="13.2" lengthAdjust="spacingAndGlyphs">100</text>
<text x="378.4" y="634.6" textLength="4.4" lengthAdjust="spacingAndGlyphs">0</text>
<text x="415.9" y="634.6" textLength="4.4" lengthAdjust="spacingAndGlyphs">5</text>
<text x="453.4" y="634.6" textLength="8.8" lengthAdjust="spacingAndGlyphs">10</text>
<text x="490.9" y="634.6" textLength="8.8" lengthAdjust="spacingAndGlyphs">15</text>
<text x="528.4" y="634.6" textLength="8.8" lengthAdjust="spacingAndGlyphs">20</text>
<text x="565.9" y="634.6" textLength="8.8" lengthAdjust="spacingAndGlyphs">25</text>
<text x="603.4" y="634.6" textLength="8.8" lengthAdjust="spacingAndGlyphs">30</text>
<text x="640.9" y="634.6" textLength="8.8" lengthAdjust="spacingAndGlyphs">35</text>
<text x="678.4" y="634.6" textLength="8.8" lengthAdjust="spacingAndGlyphs">40</text>
</g>
<text x="525.5" y="648" font-size="10.5" fill="#1f1f1f" text-anchor="middle">Total count of Scratches</text>
<text x="356.1" y="474.9" font-size="10.5" fill="#1f1f1f" text-anchor="middle" transform="rotate(-90 356.1 474.9)">Total count of Pits</text>
<text transform="translate(645.08 366) scale(1.05 1)" font-size="44" fill="#1a1917" stroke="none">d</text>
<use href="#an-AE" fill="#12110f" stroke="#12110f" stroke-width="0.35" stroke-linejoin="round" transform="translate(502.9 409.4) scale(0.7160 0.7205) translate(-523.31 -810.93)"/>
<use href="#an-AH" fill="#12110f" stroke="#12110f" stroke-width="0.35" stroke-linejoin="round" transform="translate(465.4 445.5) scale(0.6793 0.6933) translate(-523.62 -848.69)"/>
<g font-size="9.2" fill="#1f1f1f">
<text x="534.1" y="426.2">AE</text>
<text x="455.6" y="460.2">AH</text>
</g>
</g>
<g id="panel-e">
<g clip-path="url(#cp-e)">
<path d="M35.7 4.8C34.75 9.47 34.28 12.75 33.9 17.5C33.42 23.51 33.48 30.7 33.5 38C33.53 46.38 33.73 56.01 34.2 65C34.67 73.98 35.53 83.9 36.3 91.9C36.92 98.36 37.53 103.33 38.3 109.4C39.14 115.99 39.76 122.05 41.2 130C43.21 141.13 47.21 158.06 50 169.8C52.23 179.17 54.2 187.4 56.4 195C58.25 201.4 60.07 206.69 62.1 212.5C64.14 218.35 66.28 224.19 68.6 230C70.95 235.89 73.92 242.83 76.1 247.6C77.62 250.94 78.63 253.14 80.2 256C81.93 259.16 83.94 262.62 86.1 265.7C88.24 268.75 90.7 271.83 93.1 274.4C95.25 276.7 97.47 278.76 99.7 280.5C101.71 282.07 103.64 283.58 105.8 284.5C107.88 285.38 110.33 286.05 112.4 286C114.27 285.95 116.12 285.39 117.7 284.5C119.33 283.58 120.63 282.05 122 280.5C123.55 278.75 125.02 276.67 126.4 274.4C127.97 271.81 129.47 268.96 130.8 265.7C132.39 261.81 133.82 257.25 135 252.5C136.34 247.12 137.36 241.05 138.2 235C139.09 228.57 139.66 221.45 140.1 215C140.51 208.98 140.73 203.33 140.8 197.5C140.87 191.67 140.74 186.35 140.5 180C140.21 172.4 139.62 162.59 139 155C138.48 148.64 137.9 143.56 137.2 137.5C136.45 130.93 135.64 123.94 134.6 117C133.52 109.78 132.03 101.91 130.8 95C129.7 88.83 128.78 83.32 127.6 77.5C126.41 71.66 125.06 65.24 123.7 60C122.57 55.66 121.34 52.25 120.2 48.2C119 43.93 118.08 39.69 116.7 35C115.09 29.56 112.8 22.86 111 17.5C109.46 12.92 108.19 9.18 106.6 4.8C104.88 0.04 103.24 -4.88 101 -10C98.47 -15.77 95.71 -22.86 92 -28C88.6 -32.72 84.67 -37.69 80 -40C75.59 -42.18 69.8 -43.11 65 -42C59.76 -40.79 53.97 -36.39 50 -32C45.9 -27.46 43.37 -21.02 41 -15C38.56 -8.78 36.9 -1.1 35.7 4.8Z" transform="translate(-0.4 659.7)" fill="#fde68b"/>
<ellipse cx="226.3" cy="908.2" rx="67.5" ry="39.1" transform="rotate(-4.5 226.3 908.2)" fill="#a1d5a6"/>
<ellipse cx="133.1" cy="717.2" rx="20.7" ry="11.2" transform="rotate(-49.6 133.1 717.2)" fill="rgba(128,128,128,0.43)"/>
<ellipse cx="157.5" cy="797.8" rx="5.5" ry="1.9" transform="rotate(42 157.5 797.8)" fill="rgba(128,128,128,0.43)"/>
</g>
<path d="M32.1 664.2 H332.45 V957.4" fill="none" stroke="#555555" stroke-width="1"/>
<path d="M32.1 663.8 V957.4 H332.85" fill="none" stroke="#555555" stroke-width="1"/>
<path d="M32.1 957.4 h-2M32.1 928.08 h-2M32.1 898.76 h-2M32.1 869.44 h-2M32.1 840.12 h-2M32.1 810.8 h-2M32.1 781.48 h-2M32.1 752.16 h-2M32.1 722.84 h-2M32.1 693.52 h-2M32.1 664.2 h-2M32.1 957.4 v2.1M69.64 957.4 v2.1M107.19 957.4 v2.1M144.73 957.4 v2.1M182.27 957.4 v2.1M219.82 957.4 v2.1M257.36 957.4 v2.1M294.91 957.4 v2.1M332.45 957.4 v2.1" fill="none" stroke="#555555" stroke-width="1"/>
<g font-size="8.5" fill="#1f1f1f" text-anchor="middle">
<text x="23.75" y="959.6" textLength="4.4" lengthAdjust="spacingAndGlyphs">0</text>
<text x="23.75" y="930.28" textLength="8.8" lengthAdjust="spacingAndGlyphs">10</text>
<text x="23.75" y="900.96" textLength="8.8" lengthAdjust="spacingAndGlyphs">20</text>
<text x="23.75" y="871.64" textLength="8.8" lengthAdjust="spacingAndGlyphs">30</text>
<text x="23.75" y="842.32" textLength="8.8" lengthAdjust="spacingAndGlyphs">40</text>
<text x="23.75" y="813" textLength="8.8" lengthAdjust="spacingAndGlyphs">50</text>
<text x="23.75" y="783.68" textLength="8.8" lengthAdjust="spacingAndGlyphs">60</text>
<text x="23.75" y="754.36" textLength="8.8" lengthAdjust="spacingAndGlyphs">70</text>
<text x="23.75" y="725.04" textLength="8.8" lengthAdjust="spacingAndGlyphs">80</text>
<text x="23.75" y="695.72" textLength="8.8" lengthAdjust="spacingAndGlyphs">90</text>
<text x="23.75" y="666.4" textLength="13.2" lengthAdjust="spacingAndGlyphs">100</text>
<text x="32" y="967" textLength="4.4" lengthAdjust="spacingAndGlyphs">0</text>
<text x="69.54" y="967" textLength="4.4" lengthAdjust="spacingAndGlyphs">5</text>
<text x="107.09" y="967" textLength="8.8" lengthAdjust="spacingAndGlyphs">10</text>
<text x="144.63" y="967" textLength="8.8" lengthAdjust="spacingAndGlyphs">15</text>
<text x="182.17" y="967" textLength="8.8" lengthAdjust="spacingAndGlyphs">20</text>
<text x="219.72" y="967" textLength="8.8" lengthAdjust="spacingAndGlyphs">25</text>
<text x="257.26" y="967" textLength="8.8" lengthAdjust="spacingAndGlyphs">30</text>
<text x="294.81" y="967" textLength="8.8" lengthAdjust="spacingAndGlyphs">35</text>
<text x="332.35" y="967" textLength="8.8" lengthAdjust="spacingAndGlyphs">40</text>
</g>
<text x="177.8" y="980.2" font-size="10.5" fill="#1f1f1f" text-anchor="middle">Total count of Scratches</text>
<text x="9.7" y="806.9" font-size="10.5" fill="#1f1f1f" text-anchor="middle" transform="rotate(-90 9.7 806.9)">Total count of Pits</text>
<text transform="translate(298.8 699) scale(1.05 1)" font-size="44" fill="#1a1917" stroke="none">e</text>
<use href="#an-PrB" fill="#12110f" stroke="#12110f" stroke-width="0.35" stroke-linejoin="round" transform="translate(133.6 685.9) scale(0.7535 0.8086) translate(-528.01 -882.15)"/>
<use href="#an-GA" fill="#12110f" stroke="#12110f" stroke-width="0.35" stroke-linejoin="round" transform="translate(119.6 775.7) scale(0.7727 0.8106) translate(-524.95 -918.69)"/>
<g font-size="9.2" fill="#1f1f1f">
<text x="166.4" y="701.3">PrB</text>
<text x="158.5" y="787.5">GA</text>
</g>
</g>
<g id="legend">
<text x="374.4" y="677.2" font-size="17.8" font-weight="bold" fill="#1a1917">Legend</text>
<use href="#an-EC" fill="#12110f" stroke="#12110f" stroke-width="0.25" stroke-linejoin="round"/>
<use href="#an-PAL" fill="#12110f" stroke="#12110f" stroke-width="0.25" stroke-linejoin="round"/>
<use href="#an-GF" fill="#12110f" stroke="#12110f" stroke-width="0.25" stroke-linejoin="round"/>
<use href="#an-DV" fill="#12110f" stroke="#12110f" stroke-width="0.25" stroke-linejoin="round"/>
<use href="#an-CS" fill="#12110f" stroke="#12110f" stroke-width="0.25" stroke-linejoin="round"/>
<use href="#an-BL" fill="#12110f" stroke="#12110f" stroke-width="0.25" stroke-linejoin="round"/>
<use href="#an-CL" fill="#12110f" stroke="#12110f" stroke-width="0.25" stroke-linejoin="round"/>
<use href="#an-LS" fill="#12110f" stroke="#12110f" stroke-width="0.25" stroke-linejoin="round"/>
<use href="#an-HM" fill="#12110f" stroke="#12110f" stroke-width="0.25" stroke-linejoin="round"/>
<use href="#an-PB" fill="#12110f" stroke="#12110f" stroke-width="0.25" stroke-linejoin="round"/>
<use href="#an-BB" fill="#12110f" stroke="#12110f" stroke-width="0.25" stroke-linejoin="round"/>
<use href="#an-AE" fill="#12110f" stroke="#12110f" stroke-width="0.25" stroke-linejoin="round"/>
<use href="#an-AH" fill="#12110f" stroke="#12110f" stroke-width="0.25" stroke-linejoin="round"/>
<use href="#an-PrB" fill="#12110f" stroke="#12110f" stroke-width="0.25" stroke-linejoin="round"/>
<use href="#an-GA" fill="#12110f" stroke="#12110f" stroke-width="0.25" stroke-linejoin="round"/>
<g font-size="11.9" fill="#1f1f1f">
<text x="410.6" y="713"><tspan font-style="italic">E. ?clavatus</tspan></text>
<text x="410.3" y="727">(EC)</text>
<text x="410.6" y="751.8">Palaeomerycidae</text>
<text x="410.3" y="765.8">indet.(PAL)</text>
<text x="410.6" y="788.2"><tspan font-style="italic">Giraffokeryx</tspan> sp.</text>
<text x="410.3" y="802.2">(GF)</text>
<text x="410.6" y="822.4"><tspan font-style="italic">D. vindebonense</tspan></text>
<text x="410.3" y="836.4">(DV)</text>
<text x="410.6" y="854.8"><tspan font-style="italic">C. simorrensis</tspan></text>
<text x="410.3" y="868.8">(CS)</text>
<text x="410.6" y="888.5"><tspan font-style="italic">B. latidens</tspan></text>
<text x="410.3" y="902.5">(BL)</text>
<text x="410.6" y="923.7"><tspan font-style="italic">C. lemuroides</tspan></text>
<text x="410.3" y="937.7">(CL)</text>
<text x="410.6" y="956.6"><tspan font-style="italic">L. sansaniense</tspan></text>
<text x="410.3" y="970.6">(LS)</text>
<text x="582.0" y="709.3"><tspan font-style="italic">H.</tspan> cf. <tspan font-style="italic">matritense</tspan></text>
<text x="581.7" y="723.3">(HM)</text>
<text x="582.0" y="747.5"><tspan font-style="italic">P. balkanicum</tspan></text>
<text x="581.7" y="761.5">(PB)</text>
<text x="582.0" y="785.6"><tspan font-style="italic">B. brachypus</tspan></text>
<text x="581.7" y="799.6">(BB)</text>
<text x="582.0" y="817.2"><tspan font-style="italic">A. ezquerrae</tspan></text>
<text x="581.7" y="831.2">(AE)</text>
<text x="582.0" y="852.2"><tspan font-style="italic">A. hippoides</tspan></text>
<text x="581.7" y="866.2">(AH)</text>
<text x="582.0" y="890.7"><tspan font-style="italic">P. bavaricum</tspan></text>
<text x="581.7" y="904.7">(PrB)</text>
<text x="582.0" y="924.5"><tspan font-style="italic">G. angustidens</tspan></text>
<text x="581.7" y="938.5">(GA)</text>
</g>
</g>
</svg></body></html>
